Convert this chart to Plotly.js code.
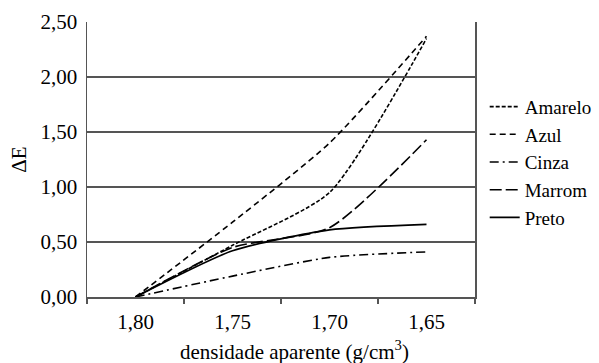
<!DOCTYPE html>
<html>
<head>
<meta charset="utf-8">
<script src="https://cdn.plot.ly/plotly-3.0.1.min.js"></script>
<style>html,body{margin:0;padding:0;background:#fff;}#chart{width:599px;height:363px;}</style>
</head>
<body>
<div id="chart"></div>
<script>
// Data
var categories = ['1,80', '1,75', '1,70', '1,65'];
var seriesNames = ['Amarelo', 'Azul', 'Cinza', 'Marrom', 'Preto'];
var amarelo = [0.00, 0.47, 0.95, 2.35];
var azul    = [0.00, 0.68, 1.40, 2.37];
var cinza   = [0.00, 0.19, 0.36, 0.41];
var marrom  = [0.00, 0.45, 0.63, 1.43];
var preto   = [0.00, 0.42, 0.61, 0.66];
var yTicks  = [0, 0.5, 1, 1.5, 2, 2.5];
var xTitle  = 'densidade aparente (g/cm<sup>3</sup>)';
var yTitle  = 'ΔE';

var values = [amarelo, azul, cinza, marrom, preto];
var dashes = ['4px,2px', '6px,4px', '9px,4px,2px,4px', '12px,4px', 'solid'];

var traces = values.map(function (v, i) {
  return {
    type: 'scatter',
    mode: 'lines',
    name: seriesNames[i],
    x: categories,
    y: v,
    line: {color: '#000', width: 1.6, dash: dashes[i], shape: 'spline', smoothing: 0.62}
  };
});

var fam = 'Liberation Serif, Times New Roman, serif';
var font = {family: fam, size: 21, color: '#000'};
var legendFont = {family: fam, size: 19, color: '#000'};

var layout = {
  width: 599, height: 363,
  margin: {l: 87, r: 124, t: 22, b: 66, autoexpand: false},
  paper_bgcolor: '#fff', plot_bgcolor: '#fff',
  separators: ',.',
  font: font,
  showlegend: true,
  legend: {x: 1.025, xanchor: 'left', y: 0.49, yanchor: 'middle', font: legendFont,
           bgcolor: 'rgba(0,0,0,0)', borderwidth: 0, tracegroupgap: 0},
  xaxis: {
    type: 'category',
    range: [-0.5, 3.5],
    tickson: 'boundaries',
    ticks: 'outside', ticklen: 5, tickwidth: 1.5, tickcolor: '#555',
    showgrid: false, zeroline: false,
    showline: true, linecolor: '#555', linewidth: 1.5,
    tickfont: font,
    ticklabelstandoff: 5
  },
  yaxis: {
    range: [0, 2.5],
    tickvals: yTicks,
    tickformat: '.2f',
    ticks: '',
    showgrid: true, gridcolor: '#555', gridwidth: 1.5,
    zeroline: false,
    showline: true, linecolor: '#555', linewidth: 1.5, mirror: true,
    tickfont: font,
    ticklabelstandoff: 4,
    title: {text: yTitle, font: font, standoff: 8}
  },
  annotations: [{
    text: xTitle, xref: 'paper', yref: 'paper',
    x: 0.534, y: -0.193, xanchor: 'center', yanchor: 'middle',
    showarrow: false, font: font
  }]
};

Plotly.newPlot('chart', traces, layout, {staticPlot: true, displayModeBar: false});
</script>
</body>
</html>
